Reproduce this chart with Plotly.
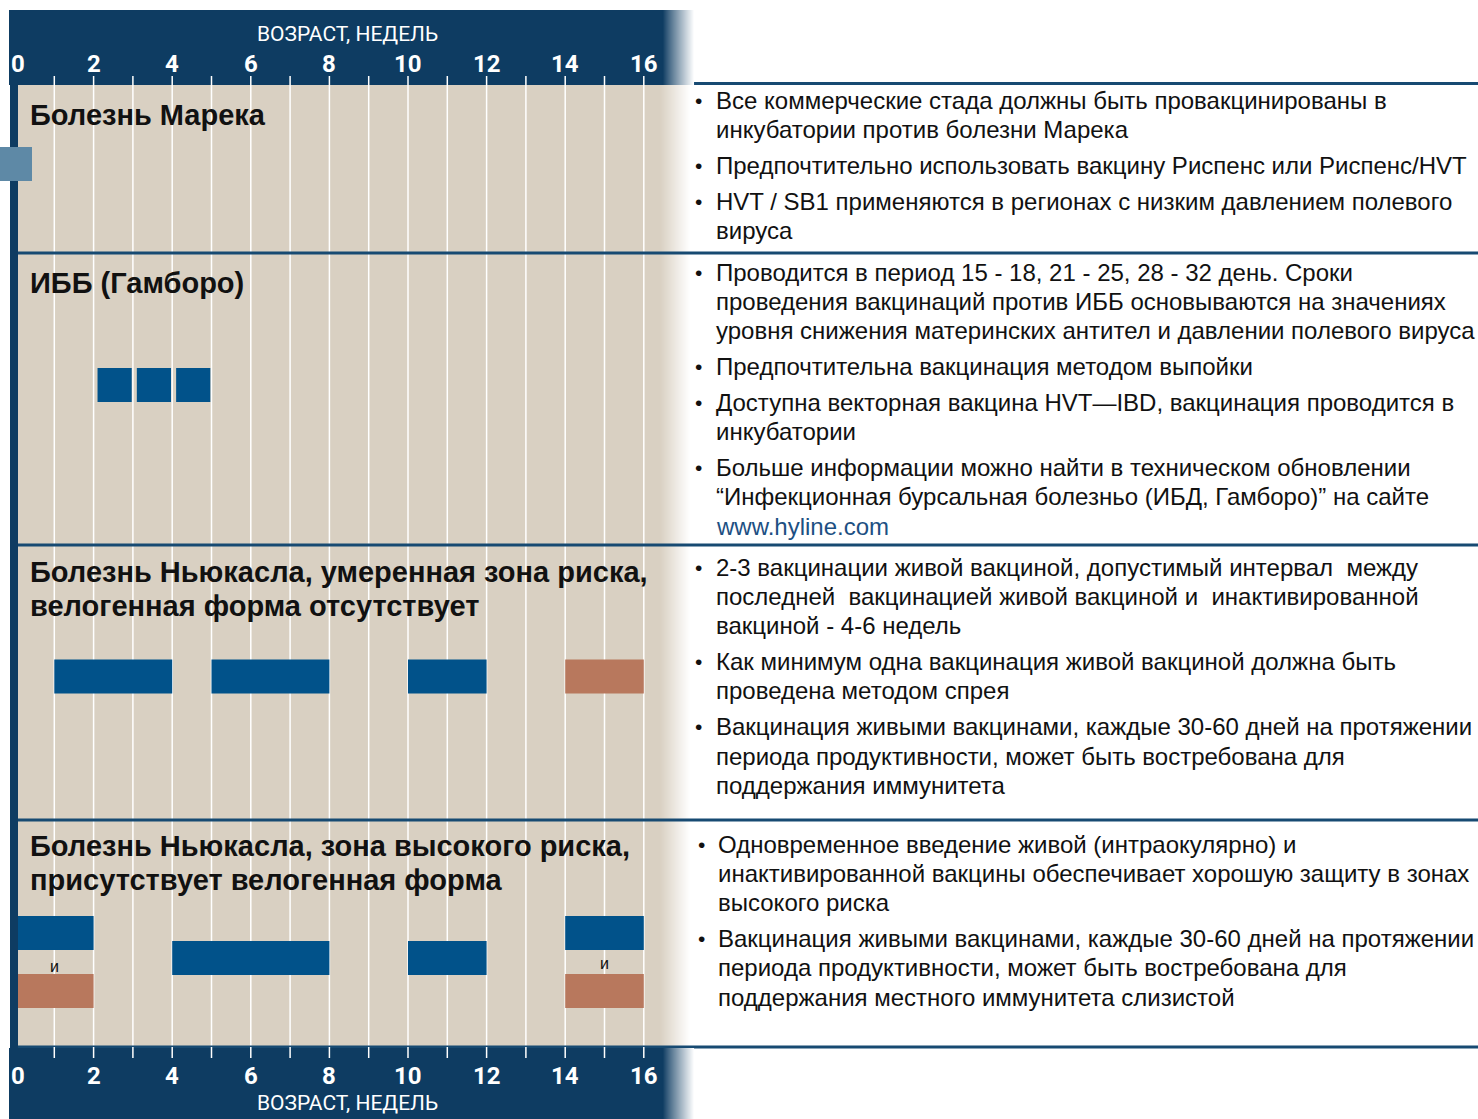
import plotly.graph_objects as go

W, H = 1478, 1119
PX_PER_WEEK = 39.3
X0_PX = 15

# ---------------- data ----------------
tick_weeks = [0, 2, 4, 6, 8, 10, 12, 14, 16]
tick_labels = ["0", "2", "4", "6", "8", "10", "12", "14", "16"]
grid_weeks = list(range(1, 17))
axis_title = "ВОЗРАСТ, НЕДЕЛЬ"

row_titles = [
    ["Болезнь Марека"],
    ["ИББ (Гамборо)"],
    ["Болезнь Ньюкасла, умеренная зона риска,", "велогенная форма отсутствует"],
    ["Болезнь Ньюкасла, зона высокого риска,", "присутствует велогенная форма"],
]

# IBD (Gumboro) live vaccinations, weeks
ibd_start = [2.1, 3.1, 4.1]
ibd_end = [2.97, 3.97, 4.97]

# Newcastle, moderate risk
ndm_live_start = [1, 5, 10]
ndm_live_end = [4, 8, 12]
ndm_inact_start = [14]
ndm_inact_end = [16]

# Newcastle, high risk
ndh_live_top_start = [0, 14]
ndh_live_top_end = [2, 16]
ndh_live_mid_start = [4, 10]
ndh_live_mid_end = [8, 12]
ndh_inact_start = [0, 14]
ndh_inact_end = [2, 16]
and_label_weeks = [1, 15]
and_label = "и"

notes = [
    [
        ["Все коммерческие стада должны быть провакцинированы в",
         "инкубатории против болезни Марека"],
        ["Предпочтительно использовать вакцину Риспенс или Риспенс/HVT"],
        ["HVT / SB1 применяются в регионах с низким давлением полевого",
         "вируса"],
    ],
    [
        ["Проводится в период 15 - 18, 21 - 25, 28 - 32 день. Сроки",
         "проведения вакцинаций против ИББ основываются на значениях",
         "уровня снижения материнских антител и давлении полевого вируса"],
        ["Предпочтительна вакцинация методом выпойки"],
        ["Доступна векторная вакцина HVT—IBD, вакцинация проводится в",
         "инкубатории"],
        ["Больше информации можно найти в техническом обновлении",
         "“Инфекционная бурсальная болезньо (ИБД, Гамборо)” на сайте",
         "<span style='color:#1d5083'>www.hyline.com</span>"],
    ],
    [
        ["2-3 вакцинации живой вакциной, допустимый интервал  между",
         "последней  вакцинацией живой вакциной и  инактивированной",
         "вакциной - 4-6 недель"],
        ["Как минимум одна вакцинация живой вакциной должна быть",
         "проведена методом спрея"],
        ["Вакцинация живыми вакцинами, каждые 30-60 дней на протяжении",
         "периода продуктивности, может быть востребована для",
         "поддержания иммунитета"],
    ],
    [
        ["Одновременное введение живой (интраокулярно) и",
         "инактивированной вакцины обеспечивает хорошую защиту в зонах",
         "высокого риска"],
        ["Вакцинация живыми вакцинами, каждые 30-60 дней на протяжении",
         "периода продуктивности, может быть востребована для",
         "поддержания местного иммунитета слизистой"],
    ],
]

# ---------------- styles / layout ----------------
NAVY = "#0e3c62"
LINE_NAVY = "#174a72"
BEIGE = (217, 208, 194)
BLUE = "#01528a"
BROWN = "#b8785d"
TAB = "#5e89a6"

row_bottom = [253, 545, 820, 1047]
title_y = [[115], [283], [572, 606], [846, 880]]
note_start_y = [100, 272, 567, 844]
bullet_x = [693, 693, 693, 696]
text_x = [714, 714, 714, 716]
LINE_H = 29.3
PARA_GAP = 6.6

BAR_H = 34


def px2w(px):
    return (px - X0_PX) / PX_PER_WEEK


def mix(c1, c2, t):
    return "rgb(%d,%d,%d)" % tuple(round(a + (b - a) * t) for a, b in zip(c1, c2))


shapes = []
# beige panel
shapes.append(dict(type="rect", xref="x", yref="y", x0=px2w(18), x1=px2w(660),
                   y0=85, y1=1047, fillcolor="rgb(%d,%d,%d)" % BEIGE, line_width=0, layer="below"))
# beige fade
for i in range(30):
    x0 = 660 + i
    shapes.append(dict(type="rect", xref="x", yref="y", x0=px2w(x0), x1=px2w(x0 + 1.05),
                       y0=85, y1=1047, fillcolor=mix(BEIGE, (255, 255, 255), (i + 0.5) / 30),
                       line_width=0, layer="below"))
# week gridlines
for w in grid_weeks:
    shapes.append(dict(type="line", xref="x", yref="y", x0=w, x1=w, y0=85, y1=1047,
                       line=dict(color="white", width=1.5), layer="below"))
# row separators
shapes.append(dict(type="line", xref="x", yref="y", x0=px2w(18), x1=px2w(W), y0=83.5, y1=83.5,
                   line=dict(color=LINE_NAVY, width=3), layer="below"))
for yb in row_bottom:
    shapes.append(dict(type="line", xref="x", yref="y", x0=px2w(18), x1=px2w(W), y0=yb, y1=yb,
                       line=dict(color=LINE_NAVY, width=3), layer="below"))
# header / footer bands with fade
NAVY_RGB = (14, 60, 98)
for (ya, yb) in [(10, 85), (1048, H)]:
    shapes.append(dict(type="rect", xref="x", yref="y", x0=px2w(9), x1=px2w(663),
                       y0=ya, y1=yb, fillcolor=NAVY, line_width=0, layer="below"))
    for i in range(31):
        x0 = 663 + i
        shapes.append(dict(type="rect", xref="x", yref="y", x0=px2w(x0), x1=px2w(x0 + 1.05),
                           y0=ya, y1=yb, fillcolor=mix(NAVY_RGB, (255, 255, 255), ((i + 0.5) / 31) ** 0.9),
                           line_width=0, layer="below"))
# week ticks in header and footer
for w in grid_weeks:
    shapes.append(dict(type="line", xref="x", yref="y", x0=w, x1=w, y0=76, y1=85,
                       line=dict(color="white", width=1.5), layer="below"))
    shapes.append(dict(type="line", xref="x", yref="y", x0=w, x1=w, y0=1047, y1=1058,
                       line=dict(color="white", width=1.5), layer="below"))
# left dark bar (drawn above bars so bars start at the panel edge)
shapes.append(dict(type="rect", xref="x", yref="y", x0=px2w(10), x1=px2w(18), y0=10, y1=H,
                   fillcolor=NAVY, line_width=0, layer="above"))
# light tab
shapes.append(dict(type="rect", xref="x", yref="y", x0=px2w(0), x1=px2w(32), y0=147, y1=181,
                   fillcolor=TAB, line_width=0, layer="above"))

fig = go.Figure()


def add_bars(starts, ends, yc, color):
    fig.add_trace(go.Bar(
        y=[yc] * len(starts), base=starts, x=[e - s for s, e in zip(starts, ends)],
        orientation="h", width=BAR_H, marker=dict(color=color, line_width=0),
        hoverinfo="skip", showlegend=False))


add_bars(ibd_start, ibd_end, 385, BLUE)
add_bars(ndm_live_start, ndm_live_end, 676.5, BLUE)
add_bars(ndm_inact_start, ndm_inact_end, 676.5, BROWN)
add_bars(ndh_live_top_start, ndh_live_top_end, 933, BLUE)
add_bars(ndh_live_mid_start, ndh_live_mid_end, 958, BLUE)
add_bars(ndh_inact_start, ndh_inact_end, 991, BROWN)

ann = []
FONT = "Liberation Sans, Arial, sans-serif"
COND = "Liberation Sans Narrow, Roboto, sans-serif"

# axis titles and tick labels
for yt, yl in [(34, 64), (1103, 1076)]:
    ann.append(dict(x=px2w(347), y=yt, xref="x", yref="y", text=axis_title, showarrow=False,
                    font=dict(family=COND, size=21, color="white"), xanchor="center", yanchor="middle"))
    for w, lab in zip(tick_weeks, tick_labels):
        ann.append(dict(x=w, y=yl, xref="x", yref="y", text="<b>%s</b>" % lab, showarrow=False,
                        xshift=3 if w == 0 else 0,
                        font=dict(family=COND, size=24, color="white"), xanchor="center", yanchor="middle"))

# row titles
for lines, ys in zip(row_titles, title_y):
    for t, y in zip(lines, ys):
        ann.append(dict(x=px2w(28), y=y, xref="x", yref="y", text="<b>%s</b>" % t, showarrow=False,
                        font=dict(family=FONT, size=29, color="#111111"), xanchor="left", yanchor="middle"))

# "и" labels
for w, yv in zip(and_label_weeks, [966, 963]):
    ann.append(dict(x=w, y=yv, xref="x", yref="y", text=and_label, showarrow=False,
                    font=dict(family=FONT, size=16, color="#111111"), xanchor="center", yanchor="middle"))

# notes
for r, paras in enumerate(notes):
    y = note_start_y[r]
    for para in paras:
        ann.append(dict(x=px2w(bullet_x[r]), y=y, xref="x", yref="y", text="•", showarrow=False,
                        font=dict(family=FONT, size=21, color="#111111"), xanchor="left", yanchor="middle"))
        for line in para:
            ann.append(dict(x=px2w(text_x[r]), y=y, xref="x", yref="y", text=line, showarrow=False,
                            font=dict(family=FONT, size=24, color="#111111"), xanchor="left", yanchor="middle"))
            y += LINE_H
        y += PARA_GAP

fig.update_layout(
    width=W, height=H, autosize=False,
    margin=dict(l=0, r=0, t=0, b=0, pad=0),
    paper_bgcolor="white", plot_bgcolor="white",
    barmode="overlay",
    xaxis=dict(range=[px2w(0), px2w(W)], visible=False, fixedrange=True),
    yaxis=dict(range=[H, 0], visible=False, fixedrange=True),
    shapes=shapes, annotations=ann,
)

fig.write_html("out.html", config={"displayModeBar": False},
               post_script="document.body.style.margin='0';document.body.style.overflow='hidden';")
